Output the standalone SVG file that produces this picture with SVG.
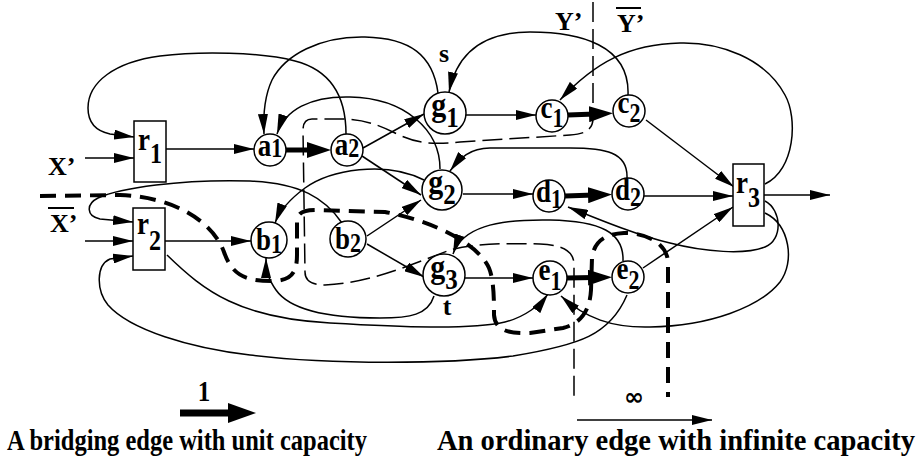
<svg xmlns="http://www.w3.org/2000/svg" width="920" height="461" viewBox="0 0 920 461">
<style>
.e{fill:none;stroke:#000;stroke-width:1.5;marker-end:url(#arr)}
.b{fill:none;stroke:#000;stroke-width:5;marker-end:url(#barr)}
.cut{fill:none;stroke:#000;stroke-width:1.5;stroke-dasharray:20 7}
.cutb{fill:none;stroke:#000;stroke-width:4;stroke-dasharray:16 9}
.n{fill:#fff;stroke:#000;stroke-width:1.5}
.t{font-family:'Liberation Serif',serif;font-weight:bold;font-size:27px;text-anchor:middle;fill:#000}
.d{font-size:22px}
.tg{font-size:30px}
.dg{font-size:25px}
.lab{font-family:'Liberation Serif',serif;font-weight:bold;font-size:26px;fill:#000}
.leg{font-family:'Liberation Serif',serif;font-weight:bold;font-size:25px;fill:#000}
</style>
<defs>
<marker id="arr" markerUnits="userSpaceOnUse" markerWidth="20" markerHeight="10" refX="20" refY="5" orient="auto"><path d="M0,0 L20,5 L0,10 z" fill="#000"/></marker>
<marker id="barr" markerUnits="userSpaceOnUse" markerWidth="24" markerHeight="16" refX="6" refY="8" orient="auto"><path d="M0,0 L24,8 L0,16 z" fill="#000"/></marker>
<marker id="legb" markerUnits="userSpaceOnUse" markerWidth="28" markerHeight="20" refX="4" refY="10" orient="auto"><path d="M0,0 L28,10 L0,20 z" fill="#000"/></marker>
</defs>
<g id="cuts">
<path class="cut" d="M 593,2 L 593,118 C 593,130 585,134 570,135 L 460,142 C 430,145 415,143 395,133 C 375,123 360,119 340,119 L 312,119 C 306,119 303,123 303,130 L 305,272 C 305,281 312,285 325,285 C 370,283 410,265 450,250 C 470,244 500,243 540,244 C 565,245 574,252 574,265 L 574,397"/>
<path class="cutb" d="M 40,196 L 120,195 C 175,197 213,222 224,252 C 232,275 245,281 272,281 C 292,281 297,272 297,255 L 297,222 C 297,213 303,210 316,210 L 385,212 C 430,220 478,243 489,268 C 494,280 494,300 494,315 C 495,330 508,334 530,333 L 563,328 C 583,323 590,308 591,290 L 592,258 C 594,242 604,234 624,233 C 648,233 667,244 668,262 L 668,397"/>
</g>
<g id="connectors">
<path class="e" d="M 85,158 L 134,158"/>
<path class="e" d="M 346,134 C 346,95 330,70 295,61 C 260,52 200,51 160,56 C 115,62 88,82 88,108 C 88,122 96,131 110,134 L 134,137"/>
<path class="e" d="M 166,149 L 254,149"/>
<path class="b" d="M 286,150 L 313,150"/>
<path class="e" d="M 363,148 L 424,114"/>
<path class="e" d="M 362,156 L 421,195"/>
<path class="e" d="M 438,93 C 433,55 410,38 365,37 C 320,36 285,55 272,80 C 265,95 263,115 264,134"/>
<path class="e" d="M 440,169 C 440,130 405,98 350,97 C 310,96 285,110 277,134"/>
<path class="e" d="M 466,115 L 536,115"/>
<path class="b" d="M 568,115 L 595,114"/>
<path class="e" d="M 628,95 C 630,45 580,32 530,32 C 490,32 458,48 449,92"/>
<path class="e" d="M 765,184 C 795,170 798,118 785,95 C 765,58 720,42 680,43 C 630,44 595,62 560,100"/>
<path class="e" d="M 646,120 L 734,187"/>
<path class="e" d="M 463,194 L 533,194"/>
<path class="b" d="M 565,196 L 594,195"/>
<path class="e" d="M 644,196 L 733,196"/>
<path class="e" d="M 627,178 C 628,152 605,148 570,148 L 490,148 C 470,148 460,158 450,171"/>
<path class="e" d="M 765,201 C 782,210 783,240 765,247 C 745,255 705,252 670,243 C 640,236 605,222 568,207"/>
<path class="e" d="M 424,180 C 385,160 330,170 305,188 C 290,199 280,210 275,223"/>
<path class="e" d="M 165,241 L 251,241"/>
<path class="e" d="M 85,241 L 133,241"/>
<path class="e" d="M 342,223 C 325,198 300,183 250,181 C 180,179 120,188 98,198 C 86,204 86,216 100,219 L 133,222"/>
<path class="e" d="M 627,295 C 610,335 580,345 513,356 C 450,364 330,365 250,355 C 190,348 130,330 108,305 C 96,290 96,265 110,259 L 133,256"/>
<path class="e" d="M 167,255 C 205,292 240,318 330,323 C 400,327 470,330 505,322 C 525,317 540,305 548,294"/>
<path class="e" d="M 434,296 C 428,315 410,318 380,318 C 330,318 290,310 276,290 C 269,280 266,272 266,258"/>
<path class="e" d="M 367,236 L 421,200"/>
<path class="e" d="M 367,244 L 424,277"/>
<path class="e" d="M 465,278 L 533,278"/>
<path class="b" d="M 566,278 L 594,277.5"/>
<path class="e" d="M 623,261 C 624,232 600,221 550,220 C 495,219 462,228 453,254"/>
<path class="e" d="M 643,268 L 733,207"/>
<path class="e" d="M 765,213 C 790,225 795,262 780,282 C 760,307 710,326 650,327 C 612,328 585,318 561,296"/>
<path class="e" d="M 764,195 L 830,195"/>
</g>
<g id="r1"><rect class="n" x="134" y="121" width="32" height="61"/><text class="t" transform="translate(150 151) scale(1 1.2)" x="0" y="-1">r<tspan class="d" style="font-size:24px" dy="11">1</tspan></text></g>
<g id="r2"><rect class="n" x="133" y="208" width="32" height="62"/><text class="t" transform="translate(149 239) scale(1 1.2)" x="0" y="-4">r<tspan class="d" style="font-size:24px" dy="13">2</tspan></text></g>
<g id="r3"><rect class="n" x="733" y="164" width="31" height="62"/><text class="t" transform="translate(748 195) scale(1 1.2)" x="0" y="-2">r<tspan class="d" style="font-size:24px" dy="12">3</tspan></text></g>
<g id="a1"><circle class="n" cx="270" cy="150" r="16"/><text class="t" transform="translate(270 150) scale(1 1.2)" x="0" y="5">a<tspan class="d" dy="1">1</tspan></text></g>
<g id="a2"><circle class="n" cx="347" cy="150" r="16"/><text class="t" transform="translate(347 150) scale(1 1.2)" x="0" y="4">a<tspan class="d" dy="2">2</tspan></text></g>
<g id="b1"><circle class="n" cx="269" cy="240" r="18"/><text class="t" transform="translate(269 240) scale(1 1.2)" x="0" y="8">b<tspan class="d" dy="3">1</tspan></text></g>
<g id="b2"><circle class="n" cx="348" cy="239" r="18"/><text class="t" transform="translate(348 239) scale(1 1.2)" x="0" y="8">b<tspan class="d" dy="3">2</tspan></text></g>
<g id="g1"><circle class="n" cx="445" cy="113" r="21"/><text class="t tg" transform="translate(445 113) scale(1 1.15)" x="0" y="3">g<tspan class="dg" dy="9">1</tspan></text></g>
<g id="g2"><circle class="n" cx="442" cy="190" r="20"/><text class="t tg" transform="translate(442 190) scale(1 1.15)" x="0" y="3">g<tspan class="dg" dy="9">2</tspan></text></g>
<g id="g3"><circle class="n" cx="444" cy="275" r="21"/><text class="t tg" transform="translate(444 275) scale(1 1.15)" x="0" y="3">g<tspan class="dg" dy="9">3</tspan></text></g>
<g id="c1"><circle class="n" cx="552" cy="116" r="16"/><text class="t" transform="translate(552 116) scale(1 1.2)" x="0" y="2">c<tspan class="d" dy="7">1</tspan></text></g>
<g id="c2"><circle class="n" cx="629" cy="111" r="16"/><text class="t" transform="translate(629 111) scale(1 1.2)" x="0" y="2">c<tspan class="d" dy="7">2</tspan></text></g>
<g id="d1"><circle class="n" cx="549" cy="196" r="16"/><text class="t" transform="translate(549 196) scale(1 1.2)" x="0" y="5">d<tspan class="d" dy="5">1</tspan></text></g>
<g id="d2"><circle class="n" cx="628" cy="194" r="16"/><text class="t" transform="translate(628 194) scale(1 1.2)" x="0" y="5">d<tspan class="d" dy="5">2</tspan></text></g>
<g id="e1"><circle class="n" cx="550" cy="278" r="17"/><text class="t" transform="translate(550 278) scale(1 1.2)" x="0" y="2">e<tspan class="d" dy="8">1</tspan></text></g>
<g id="e2"><circle class="n" cx="628" cy="277" r="16"/><text class="t" transform="translate(628 277) scale(1 1.2)" x="0" y="2">e<tspan class="d" dy="8">2</tspan></text></g>
<g id="labels">
<text class="lab" x="48" y="175">X’</text>
<text class="lab" x="50" y="232">X’</text>
<line x1="48" y1="208" x2="74" y2="208" stroke="#000" stroke-width="2"/>
<text class="lab" x="555" y="30">Y’</text>
<text class="lab" x="617" y="32">Y’</text>
<line x1="616" y1="8" x2="641" y2="8" stroke="#000" stroke-width="2"/>
<text class="lab" x="444" y="62" text-anchor="middle">s</text>
<text class="lab" x="447" y="315" text-anchor="middle">t</text>
</g>
<g id="legend">
<text class="leg" transform="translate(204 401) scale(1 1.15)" x="0" y="0" text-anchor="middle">1</text>
<line x1="180" y1="413" x2="232" y2="413" stroke="#000" stroke-width="7" marker-end="url(#legb)"/>
<text x="634" y="405" text-anchor="middle" style="font-family:'DejaVu Sans',sans-serif;font-weight:bold;font-size:24px">∞</text>
<line x1="577" y1="420" x2="712" y2="420" stroke="#000" stroke-width="1.5" marker-end="url(#arr)"/>
<text class="leg" transform="translate(7 450) scale(1 1.15)" x="0" y="0" textLength="360" lengthAdjust="spacingAndGlyphs">A bridging edge with unit capacity</text>
<text class="leg" transform="translate(437 450) scale(1 1.15)" x="0" y="0" textLength="478" lengthAdjust="spacingAndGlyphs">An ordinary edge with infinite capacity</text>
</g>
</svg>
